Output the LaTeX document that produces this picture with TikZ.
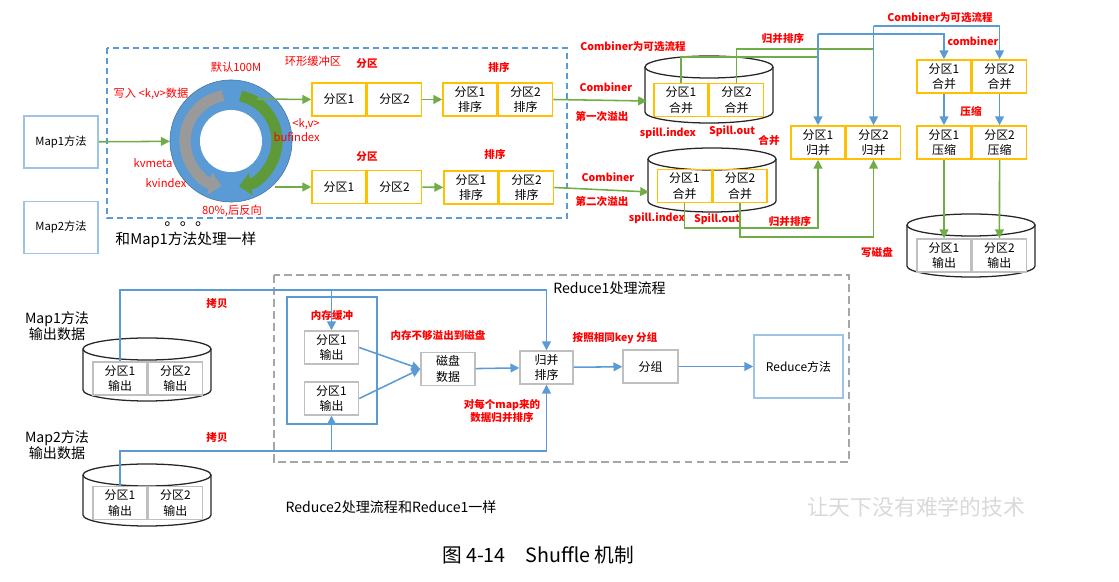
\documentclass[tikz,border=0pt]{standalone}
\usepackage{fontspec}
\setmainfont{Noto Sans CJK SC}
\usetikzlibrary{arrows.meta, positioning, calc}
\definecolor{cellyellow}{HTML}{FFC000}
\definecolor{cellgrey}{HTML}{BFBFBF}
\definecolor{flowblue}{HTML}{5B9BD5}
\definecolor{mapblue}{HTML}{9DC3E6}
\definecolor{flowgreen}{HTML}{70AD47}
\definecolor{ringblue}{HTML}{5B9BD5}
\definecolor{arcgrey}{HTML}{9A9A9A}
\definecolor{arcgreen}{HTML}{5E9A3A}
\definecolor{notered}{HTML}{FF0000}
\definecolor{framegrey}{HTML}{A6A6A6}
\definecolor{markgrey}{HTML}{D9D9D9}

% disk drum: centre x, top y, bottom y (pixels, y downwards)
\newcommand{\drum}[3]{%
  \draw[drumline] (#1-64,-#2) -- (#1-64,-#3)
    arc[start angle=180, end angle=360, x radius=64, y radius=11]
    -- (#1+64,-#2);
  \draw[drumline] (#1,-#2) ellipse [x radius=64, y radius=11];}

\begin{document}
\begin{tikzpicture}[x=0.025cm, y=0.025cm,
  cellbox/.style={draw=cellyellow, line width=1.1pt, minimum width=1.35cm,
    minimum height=0.825cm, inner sep=0pt, align=center,
    font=\fontsize{8.5}{11}\selectfont},
  greycell/.style={cellbox, draw=cellgrey, line width=1pt},
  mapbox/.style={draw=mapblue, line width=1.1pt, minimum width=1.85cm,
    minimum height=1.3cm, font=\fontsize{8}{10}\selectfont},
  redlab/.style={text=notered, font=\fontsize{8}{10}\selectfont,
    inner sep=0pt, align=center},
  redbold/.style={text=notered, font=\fontsize{7.5}{9.2}\selectfont\bfseries,
    inner sep=0pt, align=center},
  plainlab/.style={font=\fontsize{10}{10.6}\selectfont, inner sep=0pt,
    align=center},
  gline/.style={draw=flowgreen, line width=1.1pt},
  garrow/.style={gline, -{Triangle[length=2.2mm, width=2.2mm]}},
  bline/.style={draw=flowblue, line width=1.1pt},
  barrow/.style={bline, -{Triangle[length=2.2mm, width=2.2mm]}},
  drumline/.style={draw=black!85, line width=0.9pt}]
  \useasboundingbox (0,0) rectangle (1119,-582);

  % ---- map side ----
  \draw[flowblue, line width=1pt, dash pattern=on 4.3pt off 2.8pt]
    (107,-48) rectangle (567,-218);
  \node[mapbox] (map1) at (61,-142) {Map1方法};
  \node[mapbox] (map2) at (61,-227.5) {Map2方法};
  \node[plainlab, font=\fontsize{10.5}{11}\selectfont] (same) at (186,-240)
    {和Map1方法处理一样};
  \node[anchor=base west, inner sep=0pt, font=\fontsize{11}{11}\selectfont]
    (dots) at (164,-226) {。。。};

  \node[circle, fill=ringblue, draw=ringblue!75!black, line width=0.4pt,
    minimum size=3.05cm, inner sep=0pt] (ring) at (231,-141) {};
  \node[circle, fill=white, minimum size=1.55cm, inner sep=0pt]
    (hole) at (ring) {};
  \draw[arcgrey, line width=0.28cm, -{Triangle[length=0.3cm, width=0.55cm]}]
    ($(ring)+(100:46)$) arc[start angle=100, end angle=258, radius=46];
  \draw[arcgreen, line width=0.28cm, -{Triangle[length=0.3cm, width=0.55cm]}]
    ($(ring)+(78:46)$) arc[start angle=78, end angle=-80, radius=46];
  \coordinate (ringout1) at (257,-99);
  \coordinate (ringout2) at (275,-187);

  \node[redlab] (bufname) at (313,-61) {环形缓冲区};
  \node[redlab] (bufsize) at (236,-67) {默认100M};
  \node[redlab] (writekv) at (151,-94) {写入 <k,v>数据};
  \node[redlab, anchor=east, align=right] (bufidx) at (320,-130)
    {<k,v>\\bufindex};
  \node[redlab] (kvmeta) at (153,-163) {kvmeta};
  \node[redlab] (kvidx) at (166,-183) {kvindex};
  \node[redlab] (spill80) at (232,-211) {80\%,后反向};

  \node[cellbox] (pa1) at (339,-99.5) {分区1};
  \node[cellbox, right=0pt of pa1] (pa2) {分区2};
  \node[cellbox] (sa1) at (470,-99.5) {分区1\\排序};
  \node[cellbox, right=0pt of sa1] (sa2) {分区2\\排序};
  \node[cellbox] (pb1) at (339,-187) {分区1};
  \node[cellbox, right=0pt of pb1] (pb2) {分区2};
  \node[cellbox] (sb1) at (471,-187.5) {分区1\\排序};
  \node[cellbox, right=0pt of sb1] (sb2) {分区2\\排序};
  \node[redbold] (parta) at (367,-64) {分区};
  \node[redbold] (sorta) at (499,-67) {排序};
  \node[redbold] (partb) at (367,-157) {分区};
  \node[redbold] (sortb) at (495,-154) {排序};

  \draw[garrow] (map1) -- (ring);
  \draw[garrow] (ringout1) -- (pa1.west);
  \draw[garrow] (ringout2) -- (pb1.west);
  \draw[garrow] (pa2) -- (sa1);
  \draw[garrow] (pb2) -- (sb1);

  % ---- spill files ----
  \drum{709}{67}{112}
  \drum{712}{159}{201}
  \node[cellbox] (c1a) at (681,-100) {分区1\\合并};
  \node[cellbox, right=0pt of c1a] (c1b) {分区2\\合并};
  \node[cellbox] (c2a) at (684.5,-186) {分区1\\合并};
  \node[cellbox, right=0pt of c2a] (c2b) {分区2\\合并};
  \coordinate (cyl1w) at (647,-101);
  \coordinate (cyl2w) at (649,-192);
  \draw[garrow] (sa2.east) -- (cyl1w);
  \draw[garrow] (sb2.east) -- (cyl2w);

  \node[redbold] (optional1) at (633,-47) {Combiner为可选流程};
  \node[redbold] (comb1) at (606,-87) {Combiner};
  \node[redbold] (first) at (602,-117) {第一次溢出};
  \node[redbold] (comb2) at (608,-177) {Combiner};
  \node[redbold] (second) at (602,-202) {第二次溢出};
  \node[redbold] (idx1) at (668,-133) {spill.index};
  \node[redbold] (out1) at (732,-131) {Spill.out};
  \node[redbold] (idx2) at (657,-218) {spill.index};
  \node[redbold] (out2) at (717,-219) {Spill.out};
  \node[redbold] (mergelab) at (769,-141) {合并};
  \node[redbold] (msorta) at (783,-39) {归并排序};
  \node[redbold] (msortb) at (790,-222) {归并排序};

  % ---- merge, combine, compress ----
  \node[cellbox] (m1) at (818,-142.5) {分区1\\归并};
  \node[cellbox, right=0pt of m1] (m2) {分区2\\归并};
  \node[cellbox] (k1) at (944,-76.5) {分区1\\合并};
  \node[cellbox, right=0pt of k1] (k2) {分区2\\合并};
  \node[cellbox] (z1) at (944,-142.5) {分区1\\压缩};
  \node[cellbox, right=0pt of z1] (z2) {分区2\\压缩};
  \drum{971}{225}{266}
  \node[greycell] (o1) at (944,-255.5) {分区1\\输出};
  \node[greycell, right=0pt of o1] (o2) {分区2\\输出};

  \node[redbold] (optional2) at (940,-18) {Combiner为可选流程};
  \node[redbold] (comb3) at (973,-41) {combiner};
  \node[redbold] (zip) at (971,-111) {压缩};
  \node[redbold] (todisk) at (877,-252) {写磁盘};

  \draw[gline] (c1a.north) |- (m1.north |- 0,-57);
  \draw[gline] (c1b.north) |- (m2.north |- 0,-49);
  \draw[garrow] (c2a.south) -- ++(0,-25) -| (m1.south);
  \draw[garrow] (c2b.south) -- ++(0,-34) -| (m2.south);
  \coordinate (topA) at (m1.north |- 0,-34);
  \coordinate (topB) at (m2.north |- 0,-26);
  \draw[barrow] (topA) -- (m1.north);
  \draw[barrow] (topA) -| (k1.north);
  \draw[barrow] (topB) -- (m2.north);
  \draw[barrow] (topB) -| (k2.north);
  \draw[barrow] (k1) -- (z1);
  \draw[barrow] (k2) -- (z2);
  \draw[garrow] (z1) -- (o1);
  \draw[garrow] (z2) -- (o2);

  % ---- reduce side ----
  \node[plainlab] (map1out) at (57,-326) {Map1方法\\输出数据};
  \node[plainlab] (map2out) at (57,-445) {Map2方法\\输出数据};
  \drum{147}{349}{390}
  \drum{147}{475}{515}
  \node[greycell] (d1a) at (120,-378.5) {分区1\\输出};
  \node[greycell, right=0pt of d1a] (d1b) {分区2\\输出};
  \node[greycell] (e1a) at (120,-503) {分区1\\输出};
  \node[greycell, right=0pt of e1a] (e1b) {分区2\\输出};

  \draw[framegrey, line width=2pt, dash pattern=on 5.5pt off 3pt]
    (274,-275) rectangle (849,-462);
  \node[plainlab, anchor=west] (red1) at (553,-288) {Reduce1处理流程};
  \node[draw=flowblue, line width=1pt, minimum width=2.25cm,
    minimum height=3.175cm] (buf) at (332,-360.5) {};
  \node[greycell] (r1a) at (331.5,-347.5) {分区1\\输出};
  \node[greycell] (r2a) at (331.5,-398.5) {分区1\\输出};
  \node[greycell] (disk) at (448,-369) {磁盘\\数据};
  \node[greycell, minimum width=1.325cm] (msort) at (546.5,-367.5)
    {归并\\排序};
  \node[greycell, minimum width=1.375cm] (grp) at (650.5,-366.5) {分组};
  \node[draw=mapblue, line width=1.1pt, minimum width=2.225cm,
    minimum height=1.575cm, font=\fontsize{8.5}{10}\selectfont]
    (rmeth) at (798.5,-366.5) {Reduce方法};

  \node[redbold] (copy1) at (217,-304) {拷贝};
  \node[redbold] (copy2) at (217,-438) {拷贝};
  \node[redbold] (membuf) at (332,-315) {内存缓冲};
  \node[redbold] (overflow) at (438,-335) {内存不够溢出到磁盘};
  \node[redbold] (permap) at (502,-411) {对每个map来的\\数据归并排序};
  \node[redbold] (bykey) at (615,-338) {按照相同key 分组};

  \coordinate (cp1) at (r1a.north |- 0,-290);
  \coordinate (cp2) at (r2a.south |- 0,-451);
  \draw[barrow] (d1a.north) |- (msort.north |- 0,-290) -- (msort.north);
  \draw[barrow] (cp1) -- (r1a.north);
  \draw[barrow] (e1a.north) |- (msort.south |- 0,-451) -- (msort.south);
  \draw[barrow] (cp2) -- (r2a.south);
  \draw[barrow] (r1a.east) -- (disk.west);
  \draw[barrow] (r2a.east) -- (disk.west);
  \draw[barrow] (disk) -- (msort);
  \draw[barrow] (msort) -- (grp);
  \draw[barrow] (grp) -- (rmeth);

  \node[plainlab] (red2) at (391,-507) {Reduce2处理流程和Reduce1一样};
  \node[text=markgrey, font=\fontsize{15.5}{16}\selectfont]
    (mark) at (916,-507) {让天下没有难学的技术};
  \node[font=\fontsize{14}{15}\selectfont] (caption) at (538,-555)
    {图 4-14\quad Shuffle 机制};
\end{tikzpicture}
\end{document}
